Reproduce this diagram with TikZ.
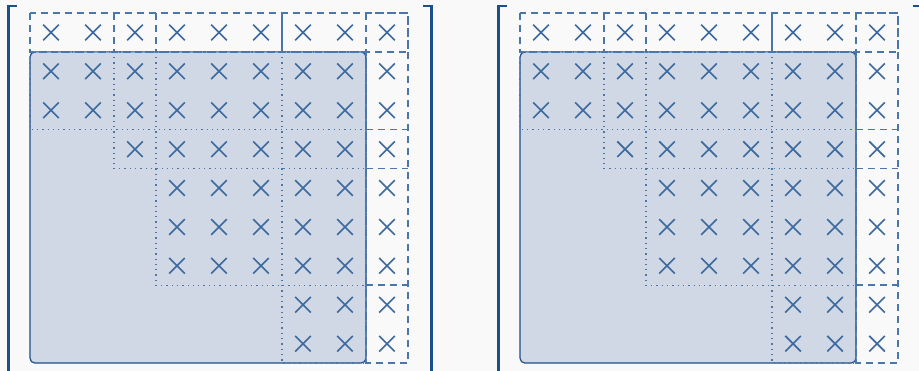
\documentclass[tikz,border=0pt]{standalone}
\usepackage{tikz}
\usetikzlibrary{shapes.misc}
\definecolor{matblue}{HTML}{1D4F8A}
\definecolor{crossblue}{HTML}{3C699E}
\definecolor{dashblue}{HTML}{4A76A9}
\definecolor{shade}{HTML}{CFD8E4}
\definecolor{paper}{HTML}{F9F9F9}

\begin{document}
\begin{tikzpicture}[x=21pt,y=-19.45pt,
  entry/.style={cross out,draw=crossblue,line width=0.8pt,inner sep=0pt,minimum size=7pt},
  blk/.style={draw=dashblue,dash pattern=on 3.5pt off 2.5pt,line width=0.8pt},
  part/.style={draw=dashblue,dotted,line width=0.65pt},
  brak/.style={draw=matblue,line width=1.1pt}]
  \fill[paper] (-0.714,-0.334) rectangle (21.167,9.203);
  \clip (-0.714,-0.334) rectangle (21.167,9.203);
  \foreach \dx/\p in {0/L,11.667/R}{
  \begin{scope}[shift={(\dx,0)}]
    \filldraw[fill=shade,draw=matblue,line width=0.6pt,rounded corners=2.5pt] (0,1) rectangle (8,9);
    \foreach \c/\r in {0/3,2/4,3/7,6/9} \draw[part] (\c,1) rectangle (8,\r);
    % border row and column, split into blocks
    \draw[blk] (0,0) rectangle (9,1) (8,0) rectangle (9,9);
    \foreach \a in {2,3} \draw[blk] (\a,0) -- (\a,1);
    \draw[blk,solid,line width=0.6pt] (6,0) -- (6,1);
    \foreach \b in {3,4,7} \draw[blk] (8,\b) -- (9,\b);
    % entries row by row, first nonzero column
    \foreach \r/\f in {0/0,1/0,2/0,3/2,4/3,5/3,6/3,7/6,8/6}
      \foreach \c in {\f,...,8} \node[entry] (\p-\r-\c) at (\c+0.5,\r+0.5) {};
    \draw[brak] (-0.31,-0.18) -- (-0.512,-0.18) -- (-0.512,9.25) -- (-0.31,9.25);
    \draw[brak] (9.36,-0.18) -- (9.56,-0.18) -- (9.56,9.25) -- (9.36,9.25);
  \end{scope}}
\end{tikzpicture}
\end{document}
